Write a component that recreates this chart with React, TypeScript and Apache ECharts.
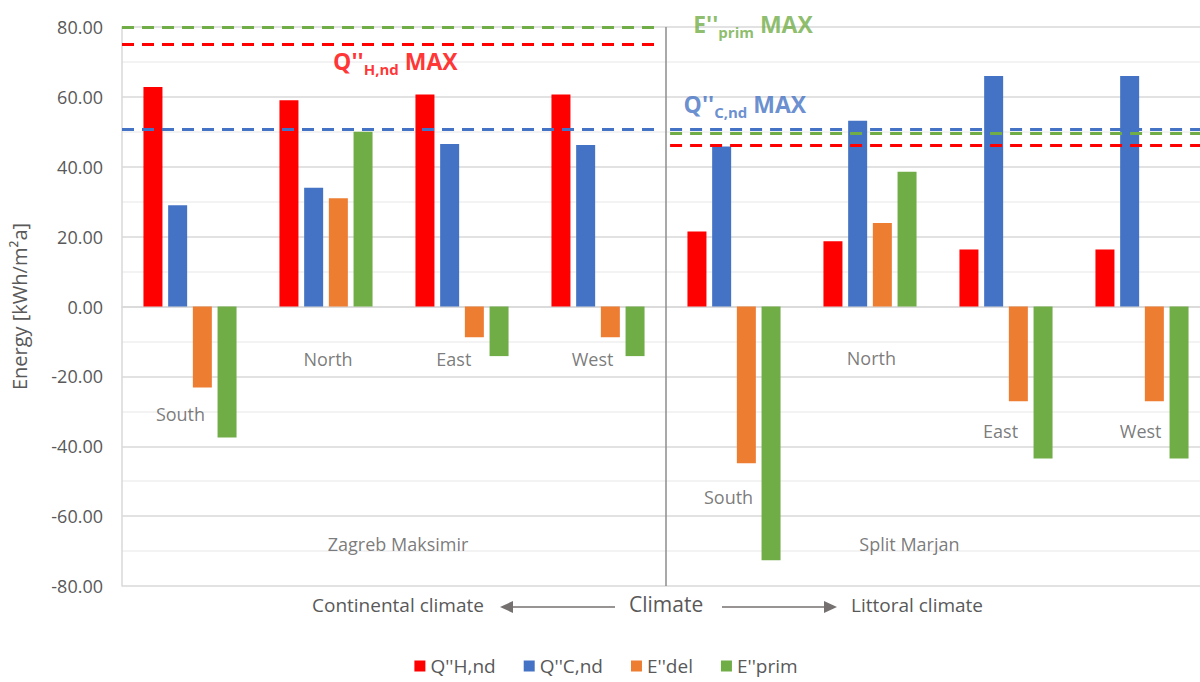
import React, { useEffect, useRef } from 'react';
import * as echarts from 'echarts';

// ---- data ----
const orientations = ['South', 'North', 'East', 'West'];
const cities = ['Zagreb Maksimir', 'Split Marjan'];
const categories = cities.flatMap((c) => orientations.map((o) => `${c} ${o}`));

const seriesNames = ["Q''H,nd", "Q''C,nd", "E''del", "E''prim"];
const qHnd = [62.8, 59.0, 60.7, 60.7, 21.5, 18.7, 16.3, 16.3];
const qCnd = [29.0, 34.0, 46.5, 46.2, 45.8, 53.2, 66.0, 66.0];
const eDel = [-23.2, 31.0, -8.8, -8.8, -44.9, 23.9, -27.1, -27.1];
const ePrim = [-37.5, 50.0, -14.2, -14.2, -72.6, 38.6, -43.5, -43.5];

// limits per city [Zagreb, Split]
const qHndMax = [75.2, 46.1];
const qCndMax = [50.6, 50.6];
const ePrimMax = [80.0, 49.6];

const yTicks = { min: -80, max: 80, interval: 20 };

// ---- styles / positions ----
const colors = ['#FF0000', '#4472C4', '#ED7D31', '#70AD47'];
const textColor = '#595959';
const font = 'Open Sans';

// orientation label anchor positions (value-x coordinate, y value)
const orientLabelPos: [number, number][] = [
  [-0.07, -30.9], [1.015, -14.9], [1.94, -14.9], [2.96, -14.9],
  [3.96, -54.6], [5.01, -14.6], [5.96, -35.7], [6.99, -35.7],
];
const cityLabelPos: [number, number][] = [[1.53, -68], [5.29, -68]];
const halves: [number, number][] = [[-0.5, 3.45], [3.53, 7.5]];

function seg(x0: number, x1: number, y: number, color: string) {
  return [
    { coord: [x0, y], lineStyle: { color, type: [12, 8], width: 3 } },
    { coord: [x1, y] },
  ];
}

function maxLabel(main: string, sub: string, color: string) {
  return {
    show: true,
    position: 'inside',
    formatter: `{m|${main}}{s|${sub}}{m| MAX}`,
    rich: {
      m: { fontSize: 23, fontWeight: 'bold', color, fontFamily: font, lineHeight: 27, verticalAlign: 'top' },
      s: { fontSize: 15, fontWeight: 'bold', color, fontFamily: font, lineHeight: 15, verticalAlign: 'bottom' },
    },
  };
}

export default function App() {
  const ref = useRef<HTMLDivElement>(null);
  useEffect(() => {
    const chart = echarts.init(ref.current!, null, { renderer: 'svg' });
    const barData = [qHnd, qCnd, eDel, ePrim];
    const option: any = {
      animation: false,
      textStyle: { fontFamily: font },
      grid: { left: 122, top: 27, right: 2, height: 559 },
      legend: {
        data: seriesNames,
        top: 651,
        left: 'center',
        icon: 'rect',
        itemWidth: 11,
        itemHeight: 11,
        itemGap: 28,
        textStyle: { fontSize: 19, lineHeight: 20, color: textColor, fontFamily: font },
      },
      xAxis: [
        {
          type: 'category',
          data: categories,
          axisLine: { show: true, onZero: true, lineStyle: { color: '#d9d9d9', width: 1.5 } },
          axisTick: { show: false },
          axisLabel: { show: false },
          splitLine: { show: false },
        },
        { type: 'value', min: -0.5, max: 7.5, show: false },
      ],
      yAxis: {
        type: 'value',
        min: yTicks.min,
        max: yTicks.max,
        interval: yTicks.interval,
        name: 'Energy [kWh/m²a]',
        nameLocation: 'middle',
        nameGap: 93,
        nameTextStyle: { fontSize: 20, color: textColor, fontFamily: font },
        axisLine: { show: true, onZero: false, lineStyle: { color: '#d9d9d9', width: 1.5 } },
        axisTick: { show: false },
        axisLabel: {
          formatter: (v: number) => v.toFixed(2),
          fontSize: 18,
          color: textColor,
          margin: 19,
          fontFamily: font,
        },
        splitLine: { lineStyle: { color: '#d9d9d9', width: 1.5 } },
        minorTick: { show: false, splitNumber: 2 },
        minorSplitLine: { show: true, lineStyle: { color: '#efefef', width: 1.5 } },
      },
      series: [
        ...seriesNames.map((name, i) => ({
          name,
          type: 'bar',
          data: barData[i],
          barWidth: 19,
          barGap: '30%',
          itemStyle: { color: colors[i] },
        })),
        {
          name: 'orient-labels',
          type: 'scatter',
          xAxisIndex: 1,
          symbolSize: 1,
          silent: true,
          clip: false,
          z: 10,
          itemStyle: { color: 'rgba(0,0,0,0)' },
          label: { show: true, position: 'inside', formatter: '{b}', color: textColor, fontSize: 18, fontFamily: font },
          data: [
            ...categories.map((_, i) => ({ name: orientations[i % 4], value: orientLabelPos[i] })),
            ...cities.map((c, i) => ({ name: c, value: cityLabelPos[i] })),
          ],
          markLine: {
            silent: true,
            symbol: 'none',
            label: { show: false },
            z: 10,
            data: [
              [
                { coord: [3.5, yTicks.min], lineStyle: { color: '#8c8c8c', type: 'solid', width: 1.5 } },
                { coord: [3.5, yTicks.max] },
              ],
              ...halves.flatMap((h, i) => [
                seg(h[0], h[1], ePrimMax[i], colors[3]),
                seg(h[0], h[1], qHndMax[i], colors[0]),
                seg(h[0], h[1], qCndMax[i], colors[1]),
              ]),
            ],
          },
        },
        {
          name: 'max-labels',
          type: 'scatter',
          xAxisIndex: 1,
          symbolSize: 1,
          silent: true,
          clip: false,
          z: 11,
          itemStyle: { color: 'rgba(0,0,0,0)' },
          data: [
            { value: [1.51, 69.7], label: maxLabel("Q''", 'H,nd', colors[0]) },
            { value: [4.14, 80.3], label: maxLabel("E''", 'prim', colors[3]) },
            { value: [4.08, 57.4], label: maxLabel("Q''", 'C,nd', colors[1]) },
          ],
        },
      ],
      graphic: [
        { type: 'text', left: 312, top: 595, style: { text: 'Continental climate', fontSize: 19, fill: textColor, fontFamily: font } },
        { type: 'text', left: 629, top: 593, style: { text: 'Climate', fontSize: 21, fill: textColor, fontFamily: font } },
        { type: 'text', left: 851, top: 595, style: { text: 'Littoral climate', fontSize: 19, fill: textColor, fontFamily: font } },
        { type: 'line', shape: { x1: 510, y1: 607, x2: 615, y2: 607 }, style: { stroke: '#767171', lineWidth: 1.5 } },
        { type: 'polygon', shape: { points: [[500, 607], [513, 601], [513, 613]] }, style: { fill: '#767171' } },
        { type: 'line', shape: { x1: 722, y1: 607, x2: 827, y2: 607 }, style: { stroke: '#767171', lineWidth: 1.5 } },
        { type: 'polygon', shape: { points: [[837, 607], [824, 601], [824, 613]] }, style: { fill: '#767171' } },
      ],
    };
    chart.setOption(option);
    return () => chart.dispose();
  }, []);
  return (
    <div style={{ position: 'absolute', left: 0, top: 0, width: 1200, height: 682, overflow: 'hidden' }}>
      <div ref={ref} style={{ position: 'absolute', left: 0, top: 0, width: 1212, height: 682 }} />
    </div>
  );
}
